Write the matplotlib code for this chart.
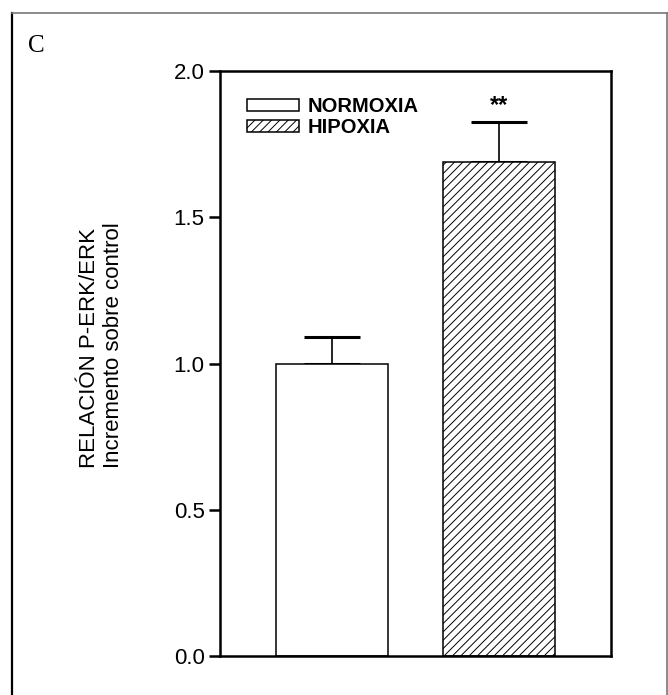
import matplotlib.pyplot as plt
from matplotlib.lines import Line2D
from matplotlib.patches import Patch

# data
groups = ['NORMOXIA', 'HIPOXIA']
ratio = [1.00, 1.69]
sem = [0.09, 0.135]
yticks = [0.0, 0.5, 1.0, 1.5, 2.0]

plt.rcParams['font.family'] = ['Liberation Sans', 'DejaVu Sans']
plt.rcParams['hatch.linewidth'] = 0.7
plt.rcParams['hatch.color'] = '#5a5a5a'

fig = plt.figure(figsize=(6.68, 6.95), dpi=100)
ax = fig.add_axes([220/668, 1 - 656/695, (611 - 220)/668, (656 - 71)/695])

# outer panel frame
fig.add_artist(Line2D([12/668, 12/668], [0, 1 - 13/695], color='black', lw=1.6, transform=fig.transFigure))
fig.add_artist(Line2D([12/668, 667/668], [1 - 13/695, 1 - 13/695], color='#777777', lw=1.2, transform=fig.transFigure))
fig.add_artist(Line2D([667/668, 667/668], [0, 1 - 13/695], color='#777777', lw=1.2, transform=fig.transFigure))

x = [0, 1.5]
hatches = ['', '////']
for xi, v, h, g in zip(x, ratio, hatches, groups):
    ax.bar(xi, v, width=1.0, color='white', edgecolor='black', linewidth=1.1, hatch=h, label=g, zorder=2)

ax.errorbar(x, ratio, yerr=[[0, 0], sem], fmt='none', ecolor='black', elinewidth=1.2,
            capsize=20.5, capthick=2.2, zorder=1)

ax.text(x[1], 1.86, '**', ha='center', va='baseline', fontsize=17, fontweight='bold')

ax.set_xlim(-1.0, 2.5)
ax.set_ylim(0, 2.0)
ax.set_xticks([])
ax.set_yticks(yticks)
ax.set_yticklabels(['%.1f' % t for t in yticks], fontsize=16)
ax.tick_params(axis='y', direction='out', length=8, width=1.8, pad=3)
for s in ax.spines.values():
    s.set_linewidth(1.8)

ax.set_ylabel('RELACIÓN P-ERK/ERK\nIncremento sobre control', fontsize=16, linespacing=1.2,
              multialignment='left')
ax.yaxis.set_label_coords(-(220 - 124)/391, (656 - 345)/585)

handles = [Patch(facecolor='white', edgecolor='black', linewidth=1.1, hatch=h) for h in hatches]
leg = ax.legend(handles, groups, loc='upper left', bbox_to_anchor=((247 - 220)/391, 1 - (97 - 71)/585),
                frameon=False, borderpad=0, borderaxespad=0, handlelength=2.6, handleheight=0.5,
                handletextpad=0.4, labelspacing=0.1, prop={'weight': 'bold', 'size': 14.5})

fig.text(28/668, 1 - 35/695, 'C', family='Liberation Serif', fontsize=18, ha='left', va='top')

fig.savefig('out.png', dpi=100)
